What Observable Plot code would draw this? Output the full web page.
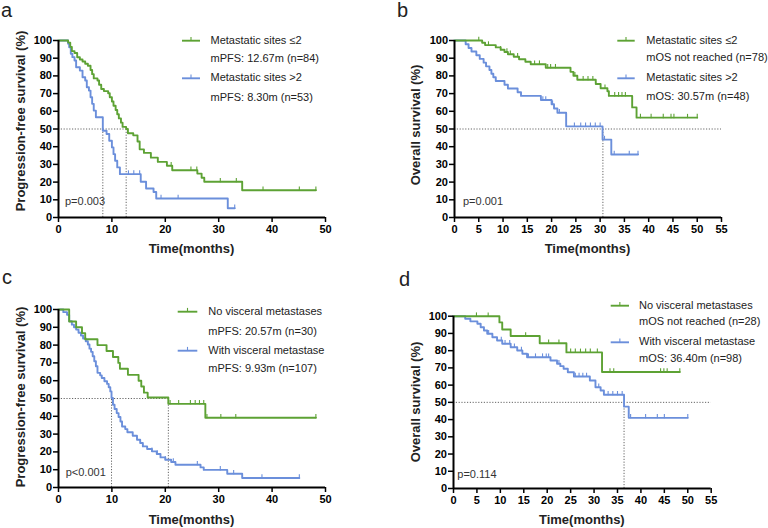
<!DOCTYPE html>
<html>
<head>
<meta charset="utf-8">
<script src="https://cdn.jsdelivr.net/npm/d3@7"></script>
<script src="https://cdn.jsdelivr.net/npm/@observablehq/plot@0.6"></script>
<style>
  body { margin: 0; background: white; }
  #wrap { position: relative; width: 768px; height: 528px; background: white; overflow: hidden; }
  #wrap svg { position: absolute; }
</style>
</head>
<body>
<div id="wrap"></div>
<script>
// ---------- Panel a: PFS by metastatic sites ----------
const aLowTime = [0, 1.8, 2.2, 2.5, 3, 3.5, 4, 4.5, 5, 5.5, 6, 6.3, 6.6, 7.3, 7.6, 8, 8.5, 9.3, 9.6, 10, 10.3, 10.7, 11, 11.3, 11.7, 12, 12.67, 13, 14, 14.8, 15.2, 16, 17.3, 18.6, 20.3, 21.3, 26, 26.8, 27.3, 34.4, 48.2];
const aLowSurv = [100, 98.8, 96.4, 94, 92.9, 90.5, 89.3, 88.1, 86.9, 85.7, 83.3, 81, 78.6, 77.4, 75, 72.6, 71.4, 70.2, 67.9, 65.5, 63.1, 60.7, 58.3, 56, 53.6, 51.2, 50, 47.6, 46.4, 42.9, 38.5, 36.5, 33.8, 31.4, 29.2, 26.7, 24.8, 22.5, 20.2, 15.4, 15.4];
const aLowCensor = [21.1, 24.8, 25.9, 30.3, 33.3, 38.3, 45.1, 48.2];
const aHighTime = [0, 1.8, 2, 2.3, 2.6, 3, 3.3, 4, 4.5, 5, 5.3, 5.7, 6, 6.3, 6.6, 7, 8.3, 9, 9.5, 10, 10.3, 10.6, 11, 11.5, 15.4, 16.4, 17.8, 18.3, 31.7, 33];
const aHighSurv = [100, 98.1, 96.2, 92.5, 90.6, 88.7, 84.9, 83, 79.2, 77.4, 73.6, 71.7, 67.9, 64.2, 60.4, 56.6, 49, 47.2, 43.4, 39.6, 35.8, 32.1, 28.3, 24.5, 20.2, 16.4, 14.4, 10.7, 5.2, 5.2];
const aHighCensor = [13.1, 14.1, 15.2, 19.2, 22.4, 33];
const aMedians = [8.30, 12.67];

// ---------- Panel b: OS by metastatic sites ----------
const bLowTime = [0, 5.7, 6.3, 8.5, 9.5, 10.3, 11, 12.2, 13.3, 14.6, 15.7, 18.8, 23.9, 24.5, 25.3, 29.1, 30.1, 31.5, 31.8, 36.6, 37.5, 50];
const bLowSurv = [100, 98.7, 97.4, 96.1, 94.8, 93.5, 92.2, 90.8, 89.4, 88, 86.6, 84.6, 82.3, 80.1, 77.8, 75.4, 73, 71.3, 68.7, 62.2, 56.4, 56.4];
const bLowCensor = [5, 7, 9.5, 10.8, 11.5, 13, 16.5, 17.5, 19.2, 19.8, 20.8, 24.8, 26.5, 27.5, 28.5, 31, 33, 33.8, 34.5, 35.2, 38.3, 40.5, 43, 44.6, 45.2, 48, 50];
const bHighTime = [0, 2.3, 2.9, 3.5, 4.5, 5.2, 6, 6.5, 7.2, 7.6, 8, 8.5, 10.3, 11, 13, 13.7, 17.8, 20, 20.5, 21.2, 23, 30.5, 32.3, 37.8];
const bHighSurv = [100, 97.9, 95.8, 93.8, 91.7, 89.6, 87.5, 85.4, 83.3, 81.2, 79.2, 77.1, 75, 72.9, 70.8, 68.7, 66.4, 64, 61.6, 59.2, 51.5, 44, 35.6, 35.6];
const bHighCensor = [18.2, 18.8, 20.2, 21.6, 24.7, 26, 27, 28, 29, 30, 30.9, 32.9, 36, 37.8];
const bMedians = [30.57];

// ---------- Panel c: PFS by visceral metastases ----------
const cNoTime = [0, 2, 3.3, 4.4, 5, 7.3, 9, 10.2, 11.2, 11.5, 13, 15, 15.5, 16, 16.7, 20.57, 27.5, 48.2];
const cNoSurv = [100, 93.3, 90, 86.7, 83.3, 80, 76.7, 73.3, 70, 66.7, 63.3, 60, 56.7, 53.3, 50.6, 47, 39.2, 39.2];
const cNoCensor = [20.9, 22.5, 24.7, 25.6, 26.4, 27.2, 27.8, 30.4, 33.2, 48.2];
const cWithTime = [0, 0.9, 1.6, 2, 2.5, 2.9, 3.3, 3.75, 4.2, 4.6, 5.1, 5.5, 5.8, 6.1, 6.4, 6.7, 7, 7.3, 7.8, 8.1, 8.6, 9.1, 9.4, 9.7, 9.93, 10.2, 10.5, 10.9, 11.25, 11.6, 11.9, 12.5, 12.9, 13.9, 14.7, 15.3, 15.8, 16.6, 17.5, 18.4, 19.1, 20, 21.1, 21.9, 26.6, 27.2, 31.6, 34.4, 45.1];
const cWithSurv = [100, 98.5, 97, 93.4, 91.5, 90, 88.7, 86.9, 85.4, 83.7, 82.2, 80.3, 78, 76.2, 73.7, 70.9, 68.1, 64.4, 63, 61.5, 59.7, 58.2, 56.3, 54, 50.3, 46.5, 44.1, 41.8, 39.6, 37.1, 34.3, 32.8, 31, 29.1, 26.8, 25, 23.1, 21.6, 20.3, 18.8, 16.9, 15.6, 14.3, 12.8, 11.3, 9.9, 7.7, 5.3, 5.3];
const cWithCensor = [17.5, 18.5, 20, 21.5, 26, 30.3, 32.8, 38.1, 45.1];
const cMedians = [9.93, 20.57];

// ---------- Panel d: OS by visceral metastases ----------
const dNoTime = [0, 9.8, 10.4, 12.2, 18.4, 24.1, 31.7, 48.3];
const dNoSurv = [100, 96.4, 92.3, 88.5, 84.3, 79, 67.6, 67.6];
const dNoCensor = [4.9, 7.4, 15.4, 20.3, 22.5, 25, 26, 27.1, 28.2, 29.2, 30.7, 33.4, 34.2, 44.2, 44.9, 45.6, 48.3];
const dWithTime = [0, 2.5, 3.6, 5.1, 5.8, 6.5, 7.2, 8.3, 9.3, 10.4, 12.2, 13.6, 14.7, 15.7, 20.7, 22.1, 22.8, 23.5, 24.4, 25.7, 29.1, 30.3, 31.4, 32.1, 36.4, 37.4, 50];
const dWithSurv = [100, 98.5, 97, 95.6, 93.6, 91.7, 89.8, 87.8, 85.9, 84, 82, 80.1, 78.2, 76.2, 74.3, 72.4, 71, 69.5, 67.5, 65, 62.7, 58.8, 56.9, 54.4, 47.5, 41, 41];
const dWithCensor = [7.5, 10.2, 11, 12, 13, 14.5, 16, 17.5, 19, 19.8, 20.3, 22.5, 26, 26.8, 27.6, 28.4, 31, 33, 34, 35, 36, 37.8, 41, 43.5, 45, 50];
const dMedians = [36.40];

const GREEN = "#5da234";
const BLUE = "#6b8fdb";
const FONT = "'Liberation Sans', Arial, Helvetica, sans-serif";

const tickSymbol = { draw(ctx) { ctx.moveTo(0, 0.5); ctx.lineTo(0, -3.8); } };

function survAt(T, S, t) {
  let s = S[0];
  for (let i = 0; i < T.length; i++) if (T[i] <= t) s = S[i];
  return s;
}

function panel(o) {
  const marks = [];
  marks.push(Plot.ruleY([50], {x1: 0, x2: o.hEnd, stroke: "#555", strokeWidth: 0.9, strokeDasharray: "1.2,1.6"}));
  marks.push(Plot.ruleX(o.medians, {y1: 0, y2: 50, stroke: "#555", strokeWidth: 0.9, strokeDasharray: "1.2,1.6"}));
  for (const s of o.series.slice().reverse()) {
    const pts = s.T.map((t, i) => ({t, s: s.S[i]}));
    marks.push(Plot.line(pts, {x: "t", y: "s", curve: "step-after", stroke: s.color, strokeWidth: 1.9}));
    const cens = s.C.map(t => ({t, s: survAt(s.T, s.S, t)}));
    marks.push(Plot.dot(cens, {x: "t", y: "s", symbol: tickSymbol, stroke: s.color, fill: "none", strokeWidth: 1.1}));
  }
  marks.push(Plot.axisX({ticks: o.xTicks, tickSize: 5, tickPadding: 3, strokeWidth: 1.5, label: null, fontWeight: "bold", fontSize: 11}));
  marks.push(Plot.axisY({ticks: d3.range(0, 101, 10), tickSize: 5, tickPadding: 1.5, strokeWidth: 1.5, label: null, fontWeight: "bold", fontSize: 11}));
  marks.push(Plot.ruleY([0], {x1: 0, x2: o.xMax, stroke: "black", strokeWidth: 2}));
  marks.push(Plot.ruleX([0], {y1: 0, y2: 100, stroke: "black", strokeWidth: 2}));

  const svg = Plot.plot({
    width: 384, height: 264,
    marginTop: o.m[0], marginRight: o.m[1], marginBottom: o.m[2], marginLeft: o.m[3],
    x: {domain: [0, o.xMax]},
    y: {domain: [0, 100]},
    style: {fontFamily: FONT, fontSize: "11px", color: "black", background: "transparent", overflow: "visible"},
    marks
  });
  svg.style.left = o.left + "px";
  svg.style.top = o.top + "px";
  const g = d3.select(svg).append("g").attr("text-anchor", "start").attr("font-family", FONT);
  // panel letter
  g.append("text").attr("x", o.letter[0]).attr("y", o.letter[1]).attr("text-anchor", "start").attr("font-size", 20).attr("fill", "#222").text(o.letterText);
  // axis titles
  const cx = o.m[3] + (384 - o.m[3] - o.m[1]) / 2;
  g.append("text").attr("x", cx).attr("y", o.xTitleY).attr("text-anchor", "middle").attr("dominant-baseline", "middle")
    .attr("font-size", 13).attr("font-weight", "bold").attr("fill", "#222").text("Time(months)");
  g.append("text").attr("transform", `translate(${o.yTitle[0]},${o.yTitle[1]}) rotate(-90)`).attr("text-anchor", "middle")
    .attr("dominant-baseline", "middle").attr("font-size", 13).attr("font-weight", "bold").attr("fill", "#222").text(o.yLabel);
  // p value
  g.append("text").attr("x", o.p[0]).attr("y", o.p[1]).attr("text-anchor", "start").attr("dominant-baseline", "middle").attr("font-size", 11)
    .attr("fill", "#333").text(o.pText);
  // legend
  o.series.forEach((s, i) => {
    const y1 = o.rows[i * 2], y2 = o.rows[i * 2 + 1];
    g.append("line").attr("x1", o.legX[0]).attr("x2", o.legX[1]).attr("y1", y1).attr("y2", y1).attr("stroke", s.color).attr("stroke-width", 1.9);
    const mx = (o.legX[0] + o.legX[1]) / 2;
    g.append("line").attr("x1", mx).attr("x2", mx).attr("y1", y1).attr("y2", y1 - 3.8).attr("stroke", s.color).attr("stroke-width", 1.1);
    g.append("text").attr("x", o.textX).attr("y", y1).attr("text-anchor", "start").attr("dominant-baseline", "middle").attr("font-size", 11).attr("fill", "#222").text(s.name);
    g.append("text").attr("x", o.textX).attr("y", y2).attr("text-anchor", "start").attr("dominant-baseline", "middle").attr("font-size", 11).attr("fill", "#222").text(s.sub);
  });
  document.getElementById("wrap").appendChild(svg);
}

panel({
  left: 0, top: 0, m: [40, 59, 47, 58], xMax: 50, xTicks: d3.range(0, 51, 10), hEnd: 12.67, medians: aMedians,
  letterText: "a", letter: [1, 17], xTitleY: 250, yTitle: [21.7, 121], yLabel: "Progression-free survival (%)",
  p: [65, 202.3], pText: "p=0.003", legX: [182, 200], textX: 210.5, rows: [40.7, 59.3, 78.3, 98.3],
  series: [
    {T: aLowTime, S: aLowSurv, C: aLowCensor, color: GREEN, name: "Metastatic sites \u22642", sub: "mPFS: 12.67m (n=84)"},
    {T: aHighTime, S: aHighSurv, C: aHighCensor, color: BLUE, name: "Metastatic sites >2", sub: "mPFS: 8.30m (n=53)"}
  ]
});
panel({
  left: 384, top: 0, m: [40, 47, 47, 70], xMax: 55, xTicks: d3.range(0, 56, 5), hEnd: 55, medians: bMedians,
  letterText: "b", letter: [13, 17], xTitleY: 250, yTitle: [32.3, 125], yLabel: "Overall survival (%)",
  p: [79, 202.3], pText: "p=0.001", legX: [233.3, 250.7], textX: 262.3, rows: [40.7, 58.3, 78.3, 96.7],
  series: [
    {T: bLowTime, S: bLowSurv, C: bLowCensor, color: GREEN, name: "Metastatic sites \u22642", sub: "mOS not reached (n=78)"},
    {T: bHighTime, S: bHighSurv, C: bHighCensor, color: BLUE, name: "Metastatic sites >2", sub: "mOS: 30.57m (n=48)"}
  ]
});
panel({
  left: 0, top: 264, m: [45, 59, 41, 58], xMax: 50, xTicks: d3.range(0, 51, 10), hEnd: 20.57, medians: cMedians,
  letterText: "c", letter: [2, 20], xTitleY: 256.7, yTitle: [21.7, 133], yLabel: "Progression-free survival (%)",
  p: [65.7, 209.3], pText: "p<0.001", legX: [177.7, 197.3], textX: 208.3, rows: [47.7, 68.3, 86.7, 105],
  series: [
    {T: cNoTime, S: cNoSurv, C: cNoCensor, color: GREEN, name: "No visceral metastases", sub: "mPFS: 20.57m (n=30)"},
    {T: cWithTime, S: cWithSurv, C: cWithCensor, color: BLUE, name: "With visceral metastase", sub: "mPFS: 9.93m (n=107)"}
  ]
});
panel({
  left: 384, top: 264, m: [51.7, 57.3, 40, 69], xMax: 55, xTicks: d3.range(0, 56, 5), hEnd: 55, medians: dMedians,
  letterText: "d", letter: [15, 22], xTitleY: 256.7, yTitle: [32.3, 138], yLabel: "Overall survival (%)",
  p: [73.3, 210.7], pText: "p=0.114", legX: [226.7, 245], textX: 255, rows: [41.7, 58.3, 78.3, 95],
  series: [
    {T: dNoTime, S: dNoSurv, C: dNoCensor, color: GREEN, name: "No visceral metastases", sub: "mOS not reached (n=28)"},
    {T: dWithTime, S: dWithSurv, C: dWithCensor, color: BLUE, name: "With visceral metastase", sub: "mOS: 36.40m (n=98)"}
  ]
});
</script>
</body>
</html>
